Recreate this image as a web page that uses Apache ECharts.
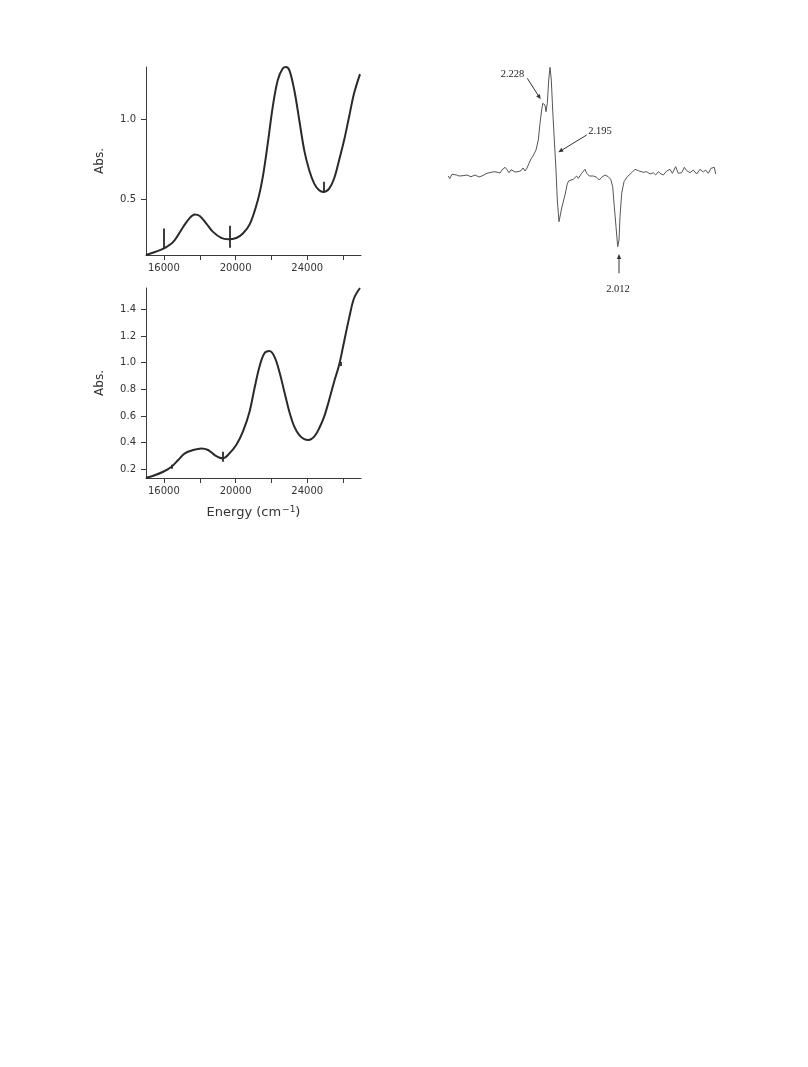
<!DOCTYPE html>
<html>
<head>
<meta charset="utf-8">
<script src="https://cdn.jsdelivr.net/npm/echarts@6/dist/echarts.min.js"></script>
<style>
html,body{margin:0;padding:0;background:#fff;}
#chart{width:808px;height:1067px;}
</style>
</head>
<body>
<div id="chart"></div>
<script>
// ---------- Data ----------
// Top UV-vis spectrum (energy cm^-1, absorbance)
var topEnergy = [15000,15500,16000,16519,17074,17444,17722,18000,18370,18741,19204,19574,20037,20407,20800,21241,21519,21796,22074,22352,22630,22815,23000,23278,23556,23833,24111,24389,24667,24907,25222,25500,25778,26056,26333,26611,26944];
var topAbs    = [0.150,0.169,0.191,0.232,0.326,0.383,0.404,0.395,0.347,0.295,0.257,0.249,0.257,0.285,0.345,0.494,0.640,0.850,1.080,1.247,1.320,1.330,1.310,1.184,0.996,0.807,0.682,0.598,0.556,0.546,0.567,0.630,0.745,0.870,1.016,1.163,1.285];
// Top instrument glitches: [energy, low, high]
var topSpikes = [[16000,0.191,0.316],[19667,0.195,0.333],[24907,0.546,0.609]];

// Bottom UV-vis spectrum
var botEnergy = [15000,15407,15963,16426,16796,17167,17630,18093,18463,18833,19111,19296,19574,20037,20407,20778,21056,21333,21611,21889,22167,22444,22722,23000,23278,23556,23833,24074,24389,24667,24944,25222,25500,25778,26056,26333,26611,26944];
var botAbs    = [0.137,0.152,0.182,0.220,0.270,0.320,0.345,0.357,0.345,0.307,0.287,0.283,0.307,0.382,0.482,0.632,0.808,0.970,1.070,1.087,1.045,0.932,0.782,0.632,0.520,0.457,0.427,0.420,0.445,0.508,0.595,0.720,0.857,0.982,1.157,1.332,1.483,1.560];
var botSpikes = [[16426,0.205,0.235],[19296,0.257,0.332],[25850,0.975,1.005]];

// Tick values
var xTickValues  = [16000,18000,20000,22000,24000,26000];
var xLabelValues = [16000,20000,24000];
var topYTicks = [0.5,1.0];
var botYTicks = [0.2,0.4,0.6,0.8,1.0,1.2,1.4];

// EPR spectrum (field, arbitrary units; intensity, arbitrary units)
var eprField = [0.3,1.7,4,6,8.7,11,13,15,17,19,21,23,25,27,29,31,33,35,37,39,41,43,45,47,49,52,54,57,59,61,63,65,67,70,73,75,77,79,81,83,85,88,90.3,92,93.7,94.7,96,97,98,99.3,100.7,102,103.3,104.7,106.3,108,109.3,111,113.7,117,119,120.5,122,125.3,128.7,130.3,133.7,137,138.7,141.3,145.3,148.7,151.3,153.7,157,160.3,162.7,164.7,166.3,168,169.7,171,172,173.7,176,179.3,183.7,187,190.3,192,195.3,198.7,202,205.3,207.7,210.3,213,215.3,218.7,222,224.3,227.7,230.3,233.7,236.3,238.7,242,245.3,248.7,252,255.3,257.7,260.3,263,266.3,267.7];
var eprSignal = [-1,-3.7,0.7,0.3,0,-1,-2,-0.7,-2,0,-1,-1.7,-3,0,-1,-2,0,-0.5,0.7,1.7,0.3,2.7,1,3.3,2.3,2,5,7.7,5.3,2.3,5.3,4.7,3,3.3,4.3,7,4,7,11.7,16,19,25,35,51.7,65,71.7,73.3,70,63.3,71.7,95,107.7,95,65,35,5,-25,-46.7,-33,-20,-10,-6,-7,-4.3,-1,-3.3,1.7,5.7,1.7,-1,-1,-2.3,-5,-2.3,0,-1.7,-4.3,-11.7,-31.7,-51.7,-71.7,-65,-41.7,-18.3,-6.7,-1.7,2.3,5.7,4.3,4.3,2.7,3.3,1,2.3,0,3.3,1,0,4,5.7,1.7,8.3,1.7,2.3,7.7,4.3,2.3,5,1,5.7,3,5,1.7,6.7,7.7,1];
// EPR g-value annotations: label, arrow start [field, signal], arrow end, text position
var eprLabels = ['2.228','2.195','2.012'];
var eprArrowStart = [[79.3,96.7],[138.7,40],[171,-98.3]];
var eprArrowEnd   = [[92.7,75.7],[110.3,22.7],[171,-79]];
var eprTextPos    = [[64.5,101],[152,44],[170,-114]];

// ---------- Build ----------
function zip(a,b){return a.map(function(v,i){return [v,b[i]];});}
function spikeLines(s){return s.map(function(d){return {coords:[[d[0],d[1]],[d[0],d[2]]]};});}

var FONT = 'DejaVu Sans';
var AX = '#3a3a3a';
function xAxisCfg(gi, name){
  var c = {
    gridIndex: gi, type:'value', min:15000, max:27000,
    axisLine:{show:true, onZero:false, lineStyle:{color:AX, width:1}},
    axisTick:{show:true, customValues:xTickValues, length:5, lineStyle:{color:AX,width:1}},
    axisLabel:{customValues:xLabelValues, fontFamily:FONT, fontSize:10, color:'#333', margin:8,
      formatter:function(v){return String(v);}},
    splitLine:{show:false}
  };
  if(name){
    c.name = name; c.nameLocation='middle'; c.nameGap = 27;
    c.nameTextStyle = {fontFamily:FONT, fontSize:13, color:'#333', lineHeight:16,
      rich:{sup:{fontFamily:FONT, fontSize:9, color:'#333', verticalAlign:'top', lineHeight:16, padding:[0,0,0,1]}}};
  }
  return c;
}
function yAxisCfg(gi, min, max, ticks){
  return {
    gridIndex: gi, type:'value', min:min, max:max,
    axisLine:{show:true, onZero:false, lineStyle:{color:AX, width:1}},
    axisTick:{show:true, customValues:ticks, length:5, lineStyle:{color:AX,width:1}},
    axisLabel:{customValues:ticks, fontFamily:FONT, fontSize:10, color:'#333', margin:10,
      formatter:function(v){return v.toFixed(1);}},
    splitLine:{show:false},
    name:'Abs.', nameLocation:'middle', nameGap:40, nameRotate:90,
    nameTextStyle:{fontFamily:FONT, fontSize:12, color:'#333'}
  };
}

var chart = echarts.init(document.getElementById('chart'), null, {renderer:'canvas'});
var option = {
  backgroundColor:'#fff',
  animation:false,
  grid:[
    {left:146, top:67, width:215, height:188, outerBoundsMode:'none'},
    {left:146, top:288, width:215, height:190, outerBoundsMode:'none'},
    {left:448, top:60, width:268, height:195, outerBoundsMode:'none'}
  ],
  xAxis:[
    xAxisCfg(0),
    xAxisCfg(1, 'Energy (cm{sup|\u22121})'),
    {gridIndex:2, type:'value', min:0, max:268, show:false}
  ],
  yAxis:[
    yAxisCfg(0, 0.15, 1.33, topYTicks),
    yAxisCfg(1, 0.135, 1.56, botYTicks),
    {gridIndex:2, type:'value', min:-80, max:115, show:false}
  ],
  series:[
    {type:'line', xAxisIndex:0, yAxisIndex:0, data:zip(topEnergy, topAbs), smooth:0.35, showSymbol:false,
      lineStyle:{color:'#2a2a2a', width:2}},
    {type:'lines', coordinateSystem:'cartesian2d', xAxisIndex:0, yAxisIndex:0, data:spikeLines(topSpikes),
      lineStyle:{color:'#2a2a2a', width:1.8, opacity:1}},
    {type:'line', xAxisIndex:1, yAxisIndex:1, data:zip(botEnergy, botAbs), smooth:0.35, showSymbol:false,
      lineStyle:{color:'#2a2a2a', width:2}},
    {type:'lines', coordinateSystem:'cartesian2d', xAxisIndex:1, yAxisIndex:1, data:spikeLines(botSpikes),
      lineStyle:{color:'#2a2a2a', width:1.8, opacity:1}},
    {type:'line', xAxisIndex:2, yAxisIndex:2, data:zip(eprField, eprSignal), smooth:false, showSymbol:false,
      lineStyle:{color:'#555', width:1}}
  ]
};
chart.setOption(option);

// Annotations for EPR (positioned from data coordinates)
var gr = [];
for (var i=0;i<eprLabels.length;i++){
  var p0 = chart.convertToPixel({gridIndex:2}, eprArrowStart[i]);
  var p1 = chart.convertToPixel({gridIndex:2}, eprArrowEnd[i]);
  var pt = chart.convertToPixel({gridIndex:2}, eprTextPos[i]);
  var dx = p1[0]-p0[0], dy = p1[1]-p0[1], L = Math.sqrt(dx*dx+dy*dy);
  var ux = dx/L, uy = dy/L, hl = 5, hw = 2.2;
  var bx = p1[0]-ux*hl, by = p1[1]-uy*hl;
  gr.push({type:'line', shape:{x1:p0[0], y1:p0[1], x2:bx, y2:by}, style:{stroke:'#333', lineWidth:1}});
  gr.push({type:'polygon', shape:{points:[[p1[0],p1[1]],[bx-uy*hw, by+ux*hw],[bx+uy*hw, by-ux*hw]]}, style:{fill:'#333'}});
  gr.push({type:'text', x:pt[0], y:pt[1], style:{text:eprLabels[i], fontFamily:'Liberation Serif', fontSize:10.5, fill:'#222', align:'center', verticalAlign:'middle'}});
}
chart.setOption({graphic:gr});
</script>
</body>
</html>
